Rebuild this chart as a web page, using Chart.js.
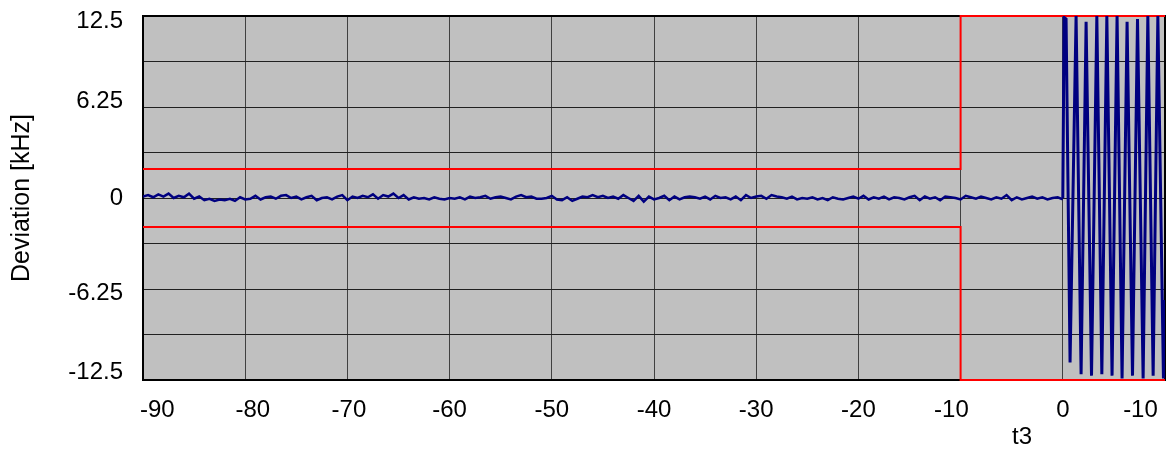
<!DOCTYPE html>
<html>
<head>
<meta charset="utf-8">
<script src="https://cdn.jsdelivr.net/npm/chart.js@4.4.0/dist/chart.umd.min.js"></script>
<style>
  html, body { margin: 0; padding: 0; background: #fff; }
  #wrap { width: 1173px; height: 450px; }
</style>
</head>
<body>
<div id="wrap"><canvas id="chart" width="1173" height="450"></canvas></div>
<script>
// time axis (ms), noise sampled every 0.5 ms from -90 to 0
var noiseStart = -90;
var noiseStep = 0.5;
var noiseValues = [
  0.1, 0.2, 0.05, 0.25, 0.1, 0.3, 0.0, 0.15, 0.05, 0.3, -0.05, 0.1, -0.15, -0.05, -0.2, -0.1, -0.15, -0.05,
  -0.2, 0.05, -0.1, -0.05, 0.15, -0.1, 0.05, 0.1, -0.05, 0.15, 0.2, 0.0, 0.1, -0.1, 0.05, 0.15, -0.15, 0.0,
  0.05, -0.1, 0.1, 0.2, -0.15, 0.1, 0.0, 0.15, 0.05, 0.25, -0.05, 0.2, 0.1, 0.3, 0.0, 0.2, -0.1, 0.05,
  -0.05, 0.0, -0.1, 0.05, -0.05, -0.1, 0.0, -0.05, 0.05, -0.1, 0.1, 0.0, 0.05, 0.15, -0.05, 0.05, 0.1, 0.0,
  -0.1, 0.1, 0.2, 0.05, 0.1, -0.05, -0.05, 0.0, 0.15, -0.1, -0.15, 0.05, -0.2, -0.05, 0.1, 0.05, 0.2, 0.05,
  0.15, 0.0, 0.1, -0.05, 0.2, 0.0, -0.2, 0.15, -0.25, 0.1, -0.1, 0.0, 0.15, -0.15, 0.1, -0.1, 0.05, 0.1,
  0.05, -0.05, 0.1, -0.1, 0.15, 0.0, 0.05, -0.1, 0.1, -0.15, 0.2, 0.0, 0.1, 0.15, -0.05, 0.2, 0.1, 0.05,
  -0.05, 0.1, -0.1, 0.0, -0.05, 0.05, -0.1, 0.0, -0.15, 0.05, -0.05, -0.1, 0.0, 0.1, -0.05, 0.15, -0.1, 0.05,
  -0.05, 0.1, -0.1, 0.05, 0.0, -0.1, 0.05, 0.15, -0.15, 0.1, -0.05, 0.05, -0.15, 0.1, 0.05, 0.0, -0.1, 0.15,
  0.05, -0.05, 0.1, 0.0, -0.1, 0.05, -0.05, 0.2, -0.15, 0.05, -0.1, 0.0, 0.1, -0.05, 0.05, -0.1, 0.0, 0.05, -0.1
];

// modulated part after t = 0 : peaks and troughs
var toneTimes  = [0, 0.13, 0.32, 0.71, 1.30, 1.79, 2.28, 2.81, 3.33, 3.82, 4.31, 4.82, 5.31, 5.80, 6.29, 6.82, 7.31, 7.86, 8.32, 8.84, 9.30, 9.85, 10];
var toneValues = [0, 12.4, 12.3, -11.3, 12.5, -12.1, 12.1, -12.2, 12.5, -12.1, 12.5, -12.2, 12.5, -12.4, 12.1, -12.2, 12.3, -12.4, 12.5, -12.2, 12.5, -12.4, -7];

// limit mask (kHz)
var maskTimes = [-90, -10, -10, 10];
var upperMask = [2, 2, 12.5, 12.5];
var lowerMask = [-2, -2, -12.5, -12.5];

// grid lines and tick labels (labels sit a little off the grid lines in the original)
var xGrid = [-90, -80, -70, -60, -50, -40, -30, -20, -10, 0];
var xLabelPos = [-88.6, -79.25, -69.85, -60, -50, -40, -30, -20, -10.9, 0, 7.6];
var xLabels = ['-90', '-80', '-70', '-60', '-50', '-40', '-30', '-20', '-10', '0', '-10'];
var yGrid = [-12.5, -9.375, -6.25, -3.125, 0, 3.125, 6.25, 9.375, 12.5];
var yLabelPos = [-11.96, -6.57, 0, 6.63, 12.12];
var yLabels = ['-12.5', '-6.25', '0', '6.25', '12.5'];

var FAMILY = "'Liberation Sans', Arial, sans-serif";
var FONT = { family: FAMILY, size: 24 };
var TITLE_FONT = { family: FAMILY, size: 25 };

var noisePts = noiseValues.map(function (v, i) { return { x: noiseStart + i * noiseStep, y: v }; });
var tonePts = toneTimes.map(function (t, i) { return { x: t, y: toneValues[i] }; });
var upPts = maskTimes.map(function (t, i) { return { x: t, y: upperMask[i] }; });
var lowPts = maskTimes.map(function (t, i) { return { x: t, y: lowerMask[i] }; });

function buildTicks(grid, pos, labels) {
  var t = grid.map(function (v) { return { value: v, lbl: '', grid: true }; });
  pos.forEach(function (v, i) { t.push({ value: v, lbl: labels[i], grid: false }); });
  return t.sort(function (a, b) { return a.value - b.value; });
}

var plotBg = {
  id: 'plotBg',
  beforeDraw: function (chart) {
    var a = chart.chartArea, c = chart.ctx;
    c.save();
    c.fillStyle = '#c0c0c0';
    c.fillRect(a.left, a.top, a.right - a.left, a.bottom - a.top);
    c.restore();
  },
  beforeDatasetsDraw: function (chart) {
    var a = chart.chartArea, c = chart.ctx;
    c.save();
    c.strokeStyle = '#000';
    c.lineWidth = 2;
    c.strokeRect(a.left, a.top, a.right - a.left, a.bottom - a.top);
    c.restore();
  },
  afterDraw: function (chart) {
    var c = chart.ctx;
    c.save();
    c.fillStyle = '#000';
    c.font = FONT.size + 'px ' + FAMILY;
    c.textAlign = 'center';
    c.textBaseline = 'middle';
    c.fillText('t3', 1022, 437);
    c.restore();
  }
};

new Chart(document.getElementById('chart'), {
  type: 'line',
  data: {
    datasets: [
      { data: noisePts, borderColor: '#000080', borderWidth: 2.5, pointRadius: 0, tension: 0 },
      { data: tonePts, borderColor: '#000080', borderWidth: 3, pointRadius: 0, tension: 0 },
      { data: upPts, borderColor: '#ff0000', borderWidth: 2, pointRadius: 0, clip: false },
      { data: lowPts, borderColor: '#ff0000', borderWidth: 2, pointRadius: 0, clip: false }
    ]
  },
  options: {
    responsive: false,
    animation: false,
    devicePixelRatio: 1,
    layout: { padding: { top: 16, right: 8, left: 0, bottom: 0 } },
    plugins: { legend: { display: false }, tooltip: { enabled: false } },
    scales: {
      x: {
        type: 'linear',
        min: -90,
        max: 10,
        afterBuildTicks: function (s) { s.ticks = buildTicks(xGrid, xLabelPos, xLabels); },
        afterFit: function (s) { s.height = 70; s.paddingLeft = 0; s.paddingRight = 0; },
        border: { display: false },
        grid: {
          drawTicks: false,
          lineWidth: 1,
          color: function (ctx) { return ctx.tick && ctx.tick.grid ? '#404040' : 'rgba(0,0,0,0)'; }
        },
        ticks: {
          padding: 16,
          color: '#000',
          font: FONT,
          maxRotation: 0,
          autoSkip: false,
          callback: function (v, i, ticks) { return ticks[i].lbl; }
        }
      },
      y: {
        min: -12.5,
        max: 12.5,
        afterBuildTicks: function (s) { s.ticks = buildTicks(yGrid, yLabelPos, yLabels); },
        afterFit: function (s) { s.width = 143; s.paddingTop = 0; s.paddingBottom = 0; },
        border: { display: false },
        grid: {
          drawTicks: false,
          lineWidth: 1,
          color: function (ctx) { return ctx.tick && ctx.tick.grid ? '#202020' : 'rgba(0,0,0,0)'; }
        },
        title: { display: true, text: 'Deviation [kHz]', color: '#000', font: TITLE_FONT, padding: { top: 7, bottom: 0 } },
        ticks: {
          padding: 20,
          color: '#000',
          font: FONT,
          autoSkip: false,
          callback: function (v, i, ticks) { return ticks[i].lbl; }
        }
      }
    }
  },
  plugins: [plotBg]
});
</script>
</body>
</html>
